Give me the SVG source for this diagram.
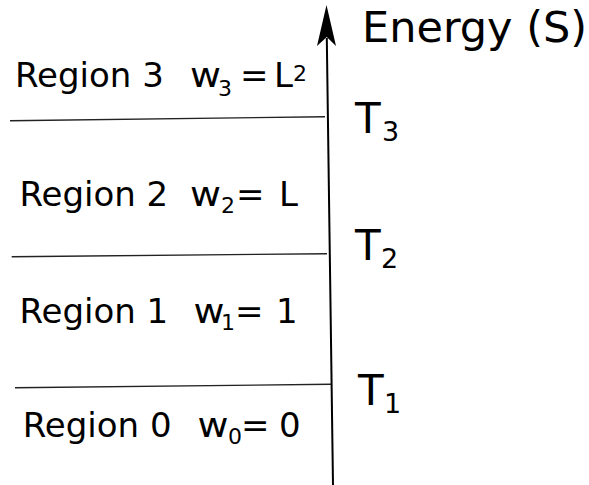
<svg xmlns="http://www.w3.org/2000/svg" width="589" height="485" viewBox="0 0 589 485">
<style>
.t{font-family:"DejaVu Sans",sans-serif;fill:#000}
.r{font-size:34px}
.s{font-size:22px}
.T{font-size:42px}
.ts{font-size:27px}
.ln{stroke:#222;stroke-width:1.4;fill:none}
.ax{stroke:#000;stroke-width:2;fill:none}
</style>
<rect width="589" height="485" fill="#fff"/>
<g id="connectors">
<line class="ln" x1="10" y1="120.7" x2="325" y2="116.7"/>
<line class="ln" x1="11.7" y1="256.7" x2="327" y2="253.7"/>
<line class="ln" x1="15" y1="387.7" x2="331" y2="384.3"/>
<line class="ax" x1="333" y1="485" x2="326.8" y2="38"/>
<polygon points="326.5,5 336,46 326.8,37 317,46" fill="#000"/>
</g>
<g id="axis-label"><text class="t" x="362" y="42" style="font-size:43px">Energy (S)</text></g>
<g id="region3">
<text class="t r" x="15" y="87">Region 3</text>
<text class="t r" x="190" y="87" textLength="31" lengthAdjust="spacingAndGlyphs">w</text><text class="t s" x="218" y="96">3</text>
<text class="t r" x="240" y="87">=</text><text class="t r" x="274" y="87">L</text><text class="t s" x="293" y="81">2</text>
</g>
<g id="region2">
<text class="t r" x="19.4" y="206">Region 2</text>
<text class="t r" x="190" y="206" textLength="31" lengthAdjust="spacingAndGlyphs">w</text><text class="t s" x="221" y="213">2</text>
<text class="t r" x="236" y="206">=</text><text class="t r" x="279" y="206">L</text>
</g>
<g id="region1">
<text class="t r" x="19.4" y="323">Region 1</text>
<text class="t r" x="193.5" y="323" textLength="31" lengthAdjust="spacingAndGlyphs">w</text><text class="t s" x="221" y="330">1</text>
<text class="t r" x="235" y="323">=</text><text class="t r" x="276" y="323">1</text>
</g>
<g id="region0">
<text class="t r" x="22.7" y="437">Region 0</text>
<text class="t r" x="197.5" y="437" textLength="31" lengthAdjust="spacingAndGlyphs">w</text><text class="t s" x="228" y="444">0</text>
<text class="t r" x="241" y="437">=</text><text class="t r" x="279" y="437">0</text>
</g>
<g id="T3"><text class="t T" x="355" y="133">T</text><text class="t ts" x="382" y="141">3</text></g>
<g id="T2"><text class="t T" x="355" y="260">T</text><text class="t ts" x="381" y="268">2</text></g>
<g id="T1"><text class="t T" x="358" y="405">T</text><text class="t ts" x="384" y="413">1</text></g>
</svg>
